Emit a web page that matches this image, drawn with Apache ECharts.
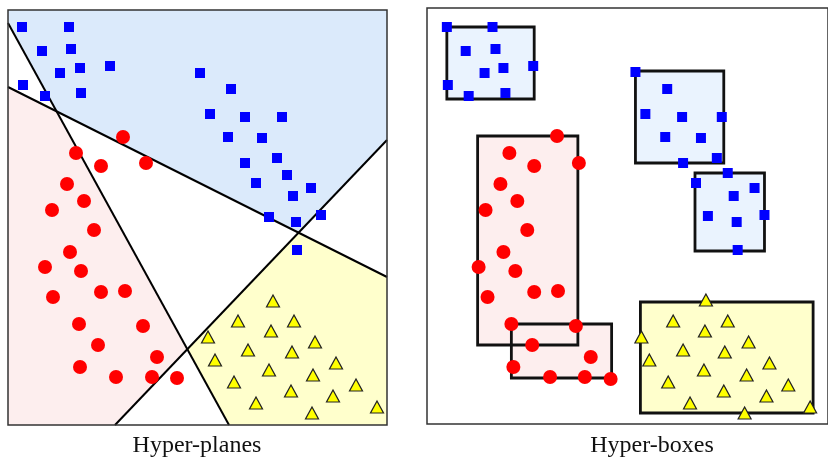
<!DOCTYPE html>
<html>
<head>
<meta charset="utf-8">
<style>
  html, body { margin: 0; padding: 0; background: #fff; }
  #main { width: 828px; height: 458px; }
</style>
<script src="https://cdn.jsdelivr.net/npm/echarts@6.0.0/dist/echarts.min.js"></script>
</head>
<body>
<div id="main"></div>
<script>
// both panels use their own coordinates: x to the right, y upwards,
// measured from the bottom-left corner of the panel

// ---- left panel: hyper-planes ----
const planeBlue = [
  [14, 398], [61, 398], [34, 374], [63, 376], [52, 352], [72, 357], [102, 359],
  [15, 340], [37, 329], [73, 332], [192, 352], [223, 336], [202, 311], [237, 308],
  [274, 308], [220, 288], [254, 287], [237, 262], [269, 267], [279, 250], [248, 242],
  [303, 237], [285, 229], [313, 210], [261, 208], [288, 203], [289, 175]
];
const planeRed = [
  [115, 288], [68, 272], [93, 259], [138, 262], [59, 241], [76, 224], [44, 215],
  [86, 195], [62, 173], [37, 158], [73, 154], [45, 128], [93, 133], [117, 134],
  [71, 101], [135, 99], [90, 80], [149, 68], [72, 58], [108, 48], [144, 48], [169, 47]
];
const planeYellow = [
  [265, 124], [230, 104], [286, 104], [263, 94], [200, 88], [307, 83], [240, 75],
  [284, 73], [207, 65], [328, 62], [261, 55], [305, 50], [226, 43], [348, 40],
  [283, 34], [325, 29], [248, 22], [369, 18], [304, 12]
];
// each hyper-plane by its two end points on the panel border
const lineA = [[0, 402], [221, 0]];
const lineB = [[0, 338], [379, 148]];
const lineC = [[107, 0], [379, 285]];

// ---- right panel: hyper-boxes ----
const boxBlue = [
  [20, 397], [66, 397], [39, 373], [69, 375], [58, 351], [77, 356], [107, 358],
  [21, 339], [42, 328], [79, 331], [210, 352], [242, 335], [220, 310], [257, 307],
  [297, 307], [240, 287], [276, 286], [258, 261], [292, 266], [303, 251], [271, 241],
  [330, 236], [309, 228], [340, 209], [283, 208], [312, 202], [313, 174]
];
const boxRed = [
  [131, 288], [83, 271], [108, 258], [153, 261], [74, 240], [91, 223], [59, 214],
  [101, 194], [77, 172], [52, 157], [89, 153], [61, 127], [108, 132], [132, 133],
  [85, 100], [150, 98], [106, 79], [165, 67], [87, 57], [124, 47], [159, 47], [185, 45]
];
const boxYellow = [
  [281, 124], [248, 103], [303, 103], [280, 93], [216, 87], [324, 82], [258, 74],
  [300, 72], [224, 64], [345, 61], [279, 54], [322, 49], [243, 42], [364, 39],
  [299, 33], [342, 28], [265, 21], [386, 17], [320, 11]
];
// boxes as [xmin, ymin, xmax, ymax]
const blueBoxes = [[20, 325, 108, 397], [210, 261, 299, 353], [270, 173, 340, 251]];
const redBoxes = [[51, 79, 152, 288], [85, 46, 186, 100]];
const yellowBoxes = [[215, 11, 389, 122]];

const leftW = 379, leftH = 415;
const rightW = 404, rightH = 416;

function cross(l1, l2) {
  const [[x1, y1], [x2, y2]] = l1;
  const [[x3, y3], [x4, y4]] = l2;
  const d = (x1 - x2) * (y3 - y4) - (y1 - y2) * (x3 - x4);
  const t = ((x1 - x3) * (y3 - y4) - (y1 - y3) * (x3 - x4)) / d;
  return [x1 + t * (x2 - x1), y1 + t * (y2 - y1)];
}
const ab = cross(lineA, lineB);
const bc = cross(lineB, lineC);
const ac = cross(lineA, lineC);

const regions = [
  { color: '#dbeafb', pts: [[0, leftH], [leftW, leftH], lineC[1], bc, ab, lineA[0]] },
  { color: '#fdeeee', pts: [lineB[0], ab, ac, lineC[0], [0, 0]] },
  { color: '#ffffcc', pts: [ac, bc, lineB[1], [leftW, 0], lineA[1]] }
];
const planes = [lineA, lineB, lineC];

const allBoxes = []
  .concat(blueBoxes.map(b => ({ b, color: '#eaf3fe' })))
  .concat(redBoxes.map(b => ({ b, color: '#fdeeee' })))
  .concat(yellowBoxes.map(b => ({ b, color: '#ffffcc' })));

const chart = echarts.init(document.getElementById('main'));

function frame(w, h) {
  return function (params, api) {
    const p0 = api.coord([0, h]);
    const p1 = api.coord([w, 0]);
    return {
      type: 'rect',
      shape: { x: p0[0], y: p0[1], width: p1[0] - p0[0], height: p1[1] - p0[1] },
      style: { fill: 'none', stroke: '#333', lineWidth: 1.5 }
    };
  };
}
function boxRender(filled) {
  return function (params, api) {
    const b = allBoxes[params.dataIndex].b;
    const p0 = api.coord([b[0], b[3]]);
    const p1 = api.coord([b[2], b[1]]);
    return {
      type: 'rect',
      shape: { x: p0[0], y: p0[1], width: p1[0] - p0[0], height: p1[1] - p0[1] },
      style: filled
        ? { fill: allBoxes[params.dataIndex].color }
        : { fill: 'none', stroke: '#111', lineWidth: 2.8 }
    };
  };
}

const square = { symbol: 'rect', symbolSize: 10, itemStyle: { color: '#0000ff', opacity: 1 } };
const circle = { symbol: 'circle', symbolSize: 14, itemStyle: { color: '#ff0000', opacity: 1 } };
const triangle = {
  symbol: 'triangle', symbolSize: [13, 12],
  itemStyle: { color: '#ffff00', borderColor: '#222', borderWidth: 1.2, opacity: 1 }
};
function scatter(idx, data, style) {
  return Object.assign({ type: 'scatter', xAxisIndex: idx, yAxisIndex: idx, data, z: 5, silent: true }, style);
}

const option = {
  animation: false,
  grid: [
    { left: 8, top: 10, width: leftW, height: leftH },
    { left: 427, top: 8, width: rightW, height: rightH }
  ],
  xAxis: [
    { type: 'value', gridIndex: 0, min: 0, max: leftW, show: false },
    { type: 'value', gridIndex: 1, min: 0, max: rightW, show: false }
  ],
  yAxis: [
    { type: 'value', gridIndex: 0, min: 0, max: leftH, show: false },
    { type: 'value', gridIndex: 1, min: 0, max: rightH, show: false }
  ],
  graphic: [
    { type: 'text', x: 197, y: 446, style: { text: 'Hyper-planes', font: '24px "Liberation Serif"', fill: '#111', align: 'center', verticalAlign: 'middle' } },
    { type: 'text', x: 652, y: 446, style: { text: 'Hyper-boxes', font: '24px "Liberation Serif"', fill: '#111', align: 'center', verticalAlign: 'middle' } }
  ],
  series: [
    {
      type: 'custom', xAxisIndex: 0, yAxisIndex: 0, z: 1, silent: true,
      data: regions.map((r, i) => [i]),
      renderItem: function (params, api) {
        const r = regions[params.dataIndex];
        return { type: 'polygon', shape: { points: r.pts.map(p => api.coord(p)) }, style: { fill: r.color } };
      }
    },
    {
      type: 'custom', xAxisIndex: 0, yAxisIndex: 0, z: 2, silent: true,
      data: planes.map((l, i) => [i]),
      renderItem: function (params, api) {
        const l = planes[params.dataIndex];
        const p0 = api.coord(l[0]), p1 = api.coord(l[1]);
        return { type: 'line', shape: { x1: p0[0], y1: p0[1], x2: p1[0], y2: p1[1] }, style: { stroke: '#000', lineWidth: 2 } };
      }
    },
    { type: 'custom', xAxisIndex: 0, yAxisIndex: 0, z: 3, silent: true, data: [[0]], renderItem: frame(leftW, leftH) },
    scatter(0, planeBlue, square),
    scatter(0, planeRed, circle),
    scatter(0, planeYellow, triangle),

    { type: 'custom', xAxisIndex: 1, yAxisIndex: 1, z: 1, silent: true, data: allBoxes.map((b, i) => [i]), renderItem: boxRender(true) },
    { type: 'custom', xAxisIndex: 1, yAxisIndex: 1, z: 2, silent: true, data: allBoxes.map((b, i) => [i]), renderItem: boxRender(false) },
    { type: 'custom', xAxisIndex: 1, yAxisIndex: 1, z: 3, silent: true, data: [[0]], renderItem: frame(rightW, rightH) },
    scatter(1, boxBlue, square),
    scatter(1, boxRed, circle),
    scatter(1, boxYellow, triangle)
  ]
};
chart.setOption(option);
</script>
</body>
</html>
